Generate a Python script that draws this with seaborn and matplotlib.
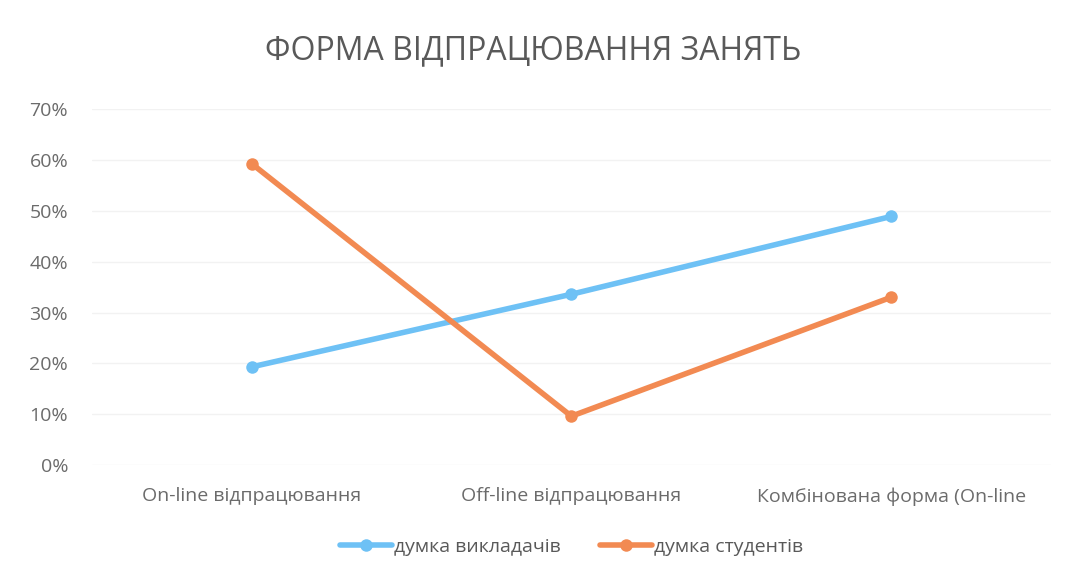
import matplotlib
matplotlib.use("Agg")
import matplotlib.pyplot as plt
import seaborn as sns
import pandas as pd
from matplotlib.ticker import PercentFormatter

categories = ["On-line відпрацювання", "Off-line відпрацювання", "Комбінована форма (On-line"]
teachers = [0.193, 0.336, 0.489]
students = [0.593, 0.096, 0.330]
series_names = ["думка викладачів", "думка студентів"]
colors = ["#6EC1F5", "#F28A52"]

df = pd.DataFrame({
    "category": categories * 2,
    "value": teachers + students,
    "series": [series_names[0]] * 3 + [series_names[1]] * 3,
})

sns.set_theme(style="white")
plt.rcParams['font.family'] = ['Open Sans', 'DejaVu Sans']

fig = plt.figure(figsize=(10.67, 5.78), dpi=100)
ax = fig.add_axes([0.086, 0.1955, 0.899, 0.6155])

sns.lineplot(data=df, x="category", y="value", hue="series", palette=colors,
             marker="o", markersize=9, markeredgewidth=0, linewidth=4, ax=ax,
             sort=False)

ax.set_xlim(-0.5, 2.5)
ax.set_ylim(0, 0.7)
ax.set_yticks([i / 10 for i in range(8)])
ax.yaxis.set_major_formatter(PercentFormatter(1.0, decimals=0))
ax.grid(axis="y", color="#F2F2F2", linewidth=1)
for s in ax.spines.values():
    s.set_visible(False)
ax.set_xlabel("")
ax.set_ylabel("")
ax.tick_params(axis="both", length=0, labelsize=14, colors="#6B6B6B")
ax.tick_params(axis="x", pad=16)
ax.tick_params(axis="y", pad=17)

fig.suptitle("ФОРМА ВІДПРАЦЮВАННЯ ЗАНЯТЬ", x=0.5, y=0.94, fontsize=23, color="#595959")

leg = ax.legend(loc="upper center", bbox_to_anchor=(0.5, -0.155), ncol=2, frameon=False,
                fontsize=14, handlelength=2.7, columnspacing=2.0, handletextpad=0.1)
for t in leg.get_texts():
    t.set_color("#595959")

fig.savefig("out.png", dpi=100, facecolor="white")
